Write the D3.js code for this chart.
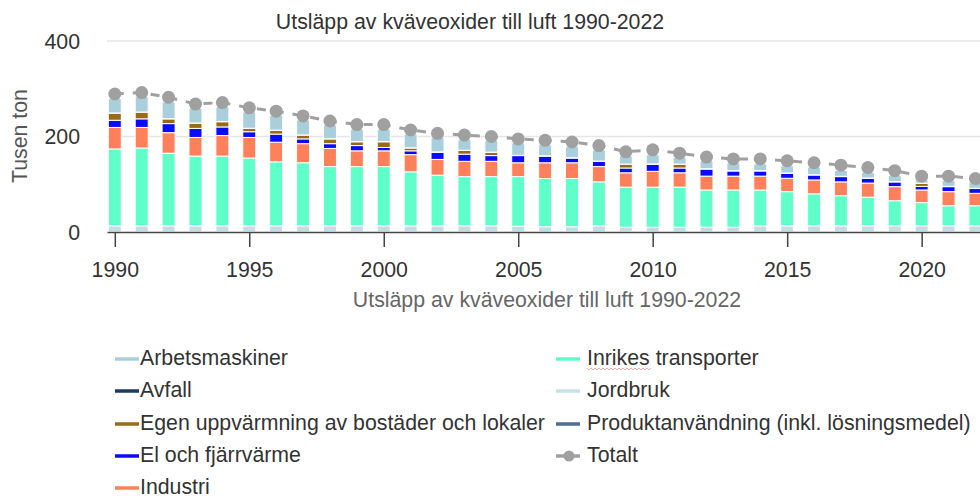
<!DOCTYPE html>
<html>
<head>
<meta charset="utf-8">
<script src="https://cdn.jsdelivr.net/npm/d3@7/dist/d3.min.js"></script>
<style>
  body { margin: 0; background: #fff; }
  svg { display: block; font-family: "Liberation Sans", Arial, sans-serif; }
</style>
</head>
<body>
<svg id="chart" width="980" height="499"></svg>
<script>
// values in tusen ton
var years = [1990, 1991, 1992, 1993, 1994, 1995, 1996, 1997, 1998, 1999,
             2000, 2001, 2002, 2003, 2004, 2005, 2006, 2007, 2008, 2009,
             2010, 2011, 2012, 2013, 2014, 2015, 2016, 2017, 2018, 2019,
             2020, 2021, 2022];

var produkt  = [0.4, 0.4, 0.4, 0.4, 0.4, 0.4, 0.4, 0.4, 0.4, 0.4,
                0.4, 0.4, 0.4, 0.4, 0.4, 0.4, 0.4, 0.4, 0.4, 0.4,
                0.4, 0.4, 0.4, 0.4, 0.4, 0.4, 0.4, 0.4, 0.4, 0.4,
                0.4, 0.4, 0.4];
var jordbruk = [12.6, 12.6, 12.6, 12.6, 12.6, 12.6, 12.6, 12.6, 12.6, 12.6,
                12.6, 12.6, 12.6, 12.6, 12.6, 11.6, 10.6, 10.6, 12.6, 9.6,
                9.6, 9.6, 9.6, 9.6, 12.6, 12.6, 12.6, 12.6, 12.6, 12.6,
                12.6, 12.6, 12.6];
var inrikes  = [161, 163, 152, 146, 146, 142, 134, 132, 124, 124,
                124, 113, 106, 103, 103, 104, 101, 101, 92, 84,
                84, 84, 78, 78, 75, 71.5, 67, 63, 60, 52.5,
                48.5, 42, 42];
var industri = [45, 43, 43, 39, 43, 43, 41, 40, 38, 33,
                33, 36, 33, 32, 32, 29, 33, 33, 32, 30,
                33, 30, 29, 29, 29, 28, 29, 29, 29.5, 29.5,
                26.5, 29.5, 26];
var el       = [15, 18, 19, 19, 18, 12, 17, 10, 10, 11,
                7, 8, 15, 15, 12, 15, 14, 10, 11, 10,
                15, 10, 15, 11, 11, 10.5, 10.5, 11, 10, 10,
                7.5, 10.5, 10];
var egen     = [15, 14, 10, 11, 11, 7, 8, 8, 10, 8,
                12, 6, 0.5, 8, 7, 0.3, 0.3, 0.3, 0.3, 8,
                0.3, 8, 0.3, 0.3, 0.3, 0.3, 0.3, 0.3, 0.3, 0.3,
                6.5, 0.3, 0.3];
var avfall   = [0.3, 0.3, 0.3, 0.3, 0.3, 0.3, 0.3, 0.3, 0.3, 0.3,
                0.3, 0.3, 0.3, 0.3, 0.3, 0.3, 0.3, 0.3, 0.3, 0.3,
                0.3, 0.3, 0.3, 0.3, 0.3, 0.3, 0.3, 0.3, 0.3, 0.3,
                0.3, 0.3, 0.3];
var arbets   = [30, 32, 35, 31, 31, 34, 31, 31, 29, 26,
                26, 28, 31, 22, 24, 26, 23, 23, 23, 17,
                19, 14, 16, 16, 14, 15, 16, 12.5, 11.5, 13,
                7, 12, 13];
var totalt   = [289, 292, 282, 268, 271, 260, 253, 243, 232.5, 225,
                225, 213.6, 206.6, 203, 200, 195, 192, 188.5, 181, 168,
                172, 165, 157, 153, 153, 149, 145, 140, 135, 128.5,
                117, 117, 112];

var yTicks = [0, 200, 400];
var xTicks = [1990, 1995, 2000, 2005, 2010, 2015, 2020];

var chartTitle = "Utsläpp av kväveoxider till luft 1990-2022";
var yTitle = "Tusen ton";

// stack order bottom -> top
var keys = ["Produktanvändning (inkl. lösningsmedel)", "Jordbruk", "Inrikes transporter",
            "Industri", "El och fjärrvärme", "Egen uppvärmning av bostäder och lokaler",
            "Avfall", "Arbetsmaskiner"];
var seriesData = [produkt, jordbruk, inrikes, industri, el, egen, avfall, arbets];
var barColors = ["#4f6e94", "#c5dce4", "#5fffca", "#ff805a", "#0a0aff", "#9a6a16", "#1b3a66", "#aacfdc"];
var legendColors = {
  "Arbetsmaskiner": "#aacfdc",
  "Avfall": "#1b3a66",
  "Egen uppvärmning av bostäder och lokaler": "#9a6a16",
  "El och fjärrvärme": "#0a0aff",
  "Industri": "#ff805a",
  "Inrikes transporter": "#5fffca",
  "Jordbruk": "#c8e0e8",
  "Produktanvändning (inkl. lösningsmedel)": "#4f6e94"
};
var totalColor = "#a0a0a0";

var table = years.map(function(y, i) {
  var row = { year: y, total: totalt[i] };
  keys.forEach(function(k, j) { row[k] = seriesData[j][i]; });
  return row;
});

var svg = d3.select("#chart");
var fs = "21.3px";

var x = d3.scaleLinear().domain([1989.71, 2022.43]).range([107, 987]);
var y = d3.scaleLinear().domain([0, 400]).range([232, 41]);

// gridlines
svg.append("g").selectAll("line")
  .data(yTicks.filter(function(d) { return d > 0; }))
  .enter().append("line")
    .attr("x1", 107).attr("x2", 987)
    .attr("y1", function(d) { return y(d); })
    .attr("y2", function(d) { return y(d); })
    .attr("stroke", "#e5e5e5")
    .attr("stroke-width", 1.5);

// stacked bars
var stacked = d3.stack().keys(keys)(table);
var barW = 13;
svg.append("g").selectAll("g")
  .data(stacked)
  .enter().append("g")
    .attr("fill", function(d, i) { return barColors[i]; })
  .selectAll("rect")
  .data(function(d) { return d; })
  .enter().append("rect")
    .attr("x", function(d) { return x(d.data.year) - barW / 2; })
    .attr("y", function(d) { return y(d[1]); })
    .attr("width", barW)
    .attr("height", function(d) { return Math.max(0, y(d[0]) - y(d[1])); })
    .attr("stroke", "#fff")
    .attr("stroke-width", 1);

// x axis
var xAxis = svg.append("g")
  .attr("transform", "translate(0,232)")
  .call(d3.axisBottom(x).tickValues(xTicks).tickFormat(d3.format("d")).tickSize(15).tickSizeOuter(0));
xAxis.select(".domain").attr("stroke", "#444").attr("stroke-width", 1.5);
xAxis.selectAll(".tick line").attr("stroke", "#444").attr("stroke-width", 1.5);
xAxis.selectAll(".tick text")
  .attr("y", 45).attr("dy", 0)
  .attr("fill", "#333")
  .style("font-size", fs)
  .style("font-family", "Liberation Sans, Arial, sans-serif");

// y axis labels
svg.append("g").selectAll("text")
  .data(yTicks)
  .enter().append("text")
    .attr("x", 80)
    .attr("y", function(d) { return y(d) + 7.5; })
    .attr("text-anchor", "end")
    .attr("fill", "#333")
    .style("font-size", fs)
    .text(function(d) { return d; });

// total line
var line = d3.line()
  .x(function(d) { return x(d.year); })
  .y(function(d) { return y(d.total); });
svg.append("path")
  .datum(table)
  .attr("d", line)
  .attr("fill", "none")
  .attr("stroke", totalColor)
  .attr("stroke-width", 3)
  .attr("stroke-dasharray", "9,9");
svg.append("g").selectAll("circle")
  .data(table)
  .enter().append("circle")
    .attr("cx", function(d) { return x(d.year); })
    .attr("cy", function(d) { return y(d.total); })
    .attr("r", 6.5)
    .attr("fill", totalColor);

// titles
svg.append("text")
  .attr("x", 470).attr("y", 29)
  .attr("text-anchor", "middle")
  .attr("fill", "#333")
  .style("font-size", fs)
  .text(chartTitle);
svg.append("text")
  .attr("x", 547).attr("y", 307)
  .attr("text-anchor", "middle")
  .attr("fill", "#666")
  .style("font-size", fs)
  .text(chartTitle);
svg.append("text")
  .attr("transform", "translate(27,136) rotate(-90)")
  .attr("text-anchor", "middle")
  .attr("fill", "#555")
  .style("font-size", fs)
  .text(yTitle);

// legend
var legendItems = [
  { name: "Arbetsmaskiner", col: 0, base: 365 },
  { name: "Avfall", col: 0, base: 397 },
  { name: "Egen uppvärmning av bostäder och lokaler", col: 0, base: 430 },
  { name: "El och fjärrvärme", col: 0, base: 462 },
  { name: "Industri", col: 0, base: 494 },
  { name: "Inrikes transporter", col: 1, base: 365 },
  { name: "Jordbruk", col: 1, base: 397 },
  { name: "Produktanvändning (inkl. lösningsmedel)", col: 1, base: 430 },
  { name: "Totalt", col: 1, base: 462, total: true }
];
var colX = [[115, 139, 140], [556, 580, 587]];

var leg = svg.append("g").selectAll("g")
  .data(legendItems)
  .enter().append("g");
leg.append("line")
  .attr("x1", function(d) { return colX[d.col][0]; })
  .attr("x2", function(d) { return colX[d.col][1]; })
  .attr("y1", function(d) { return d.base - 6; })
  .attr("y2", function(d) { return d.base - 6; })
  .attr("stroke", function(d) { return d.total ? totalColor : legendColors[d.name]; })
  .attr("stroke-width", 3.5);
leg.filter(function(d) { return d.total; }).append("circle")
  .attr("cx", function(d) { return (colX[d.col][0] + colX[d.col][1]) / 2 + 1; })
  .attr("cy", function(d) { return d.base - 6; })
  .attr("r", 5.5)
  .attr("fill", totalColor);
leg.append("text")
  .attr("x", function(d) { return colX[d.col][2]; })
  .attr("y", function(d) { return d.base; })
  .attr("fill", "#333")
  .style("font-size", fs)
  .text(function(d) { return d.name; });

// spell-check squiggle under "Inrikes" as in the screenshot
var sq = d3.path();
sq.moveTo(587, 368);
for (var k = 0; k < 32; k++) { sq.lineTo(589 + k * 2, k % 2 ? 368 : 370); }
svg.append("path").attr("d", sq.toString())
  .attr("fill", "none").attr("stroke", "#e8a0a0").attr("stroke-width", 0.8);
</script>
</body>
</html>
